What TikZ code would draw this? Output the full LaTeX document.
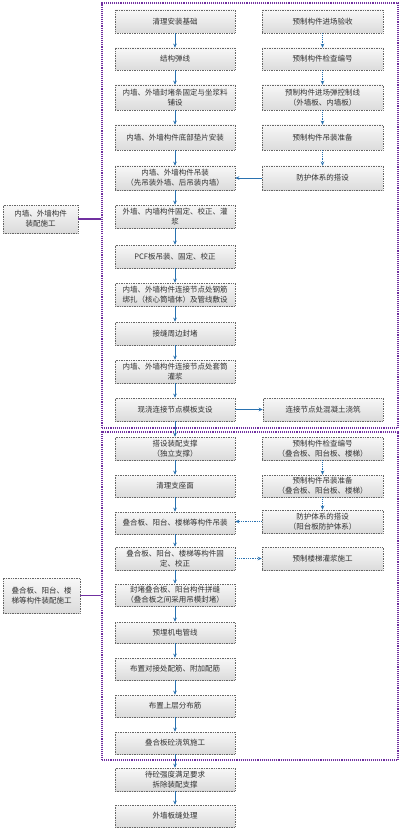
\documentclass[tikz,border=0pt]{standalone}
\usepackage{fontspec}
\setmainfont{Noto Sans CJK SC}
\usetikzlibrary{arrows.meta}
\definecolor{arr}{HTML}{2A72B0}
\definecolor{purp}{HTML}{7030A0}
\tikzset{
  box/.style={draw=black!60, densely dotted, line width=0.7pt, top color=black!3, bottom color=black!14,
    inner sep=1pt, align=center, font=\fontsize{7.5}{10}\selectfont, text=black!80},
  frame/.style={draw=purp, densely dotted, line width=1.1pt, inner sep=0pt},
  link/.style={draw=purp, line width=1.3pt},
  solidarr/.style={draw=arr, line width=0.8pt, -{Stealth[length=4pt,width=3.6pt]}},
  dotarr/.style={draw=arr, line width=0.8pt, densely dotted, -{Stealth[length=4pt,width=3.6pt]}}
}
\newcommand{\bx}[6]{% name, x1, y1, x2, y2, text
  \node[box, minimum width=#4pt-#2pt, minimum height=#5pt-#3pt] (#1) at ({(#2+#4)/2},{-(#3+#5)/2}) {#6};}
\begin{document}
\begin{tikzpicture}[x=1pt,y=1pt]
\useasboundingbox (0,0) rectangle (400,-829);
% frames
\node[frame, minimum width=296pt, minimum height=425pt] (F1) at (250,-215.5) {};
\node[frame, minimum width=296pt, minimum height=328pt] (F2) at (250,-596) {};
% top left column
\bx{L1}{115}{10}{235}{33}{清理安装基础}
\bx{L2}{115}{48}{235}{70}{结构弹线}
\bx{L3}{115}{85}{235}{110}{内墙、外墙封堵条固定与坐浆料\\铺设}
\bx{L4}{115}{125}{235}{150}{内墙、外墙构件底部垫片安装}
\bx{L5}{115}{166}{235}{190}{内墙、外墙构件吊装\\（先吊装外墙、后吊装内墙）}
\bx{L6}{115}{205}{235}{228}{外墙、内墙构件固定、校正、灌\\浆}
\bx{L7}{115}{245}{235}{268}{PCF板吊装、固定、校正}
\bx{L8}{115}{283}{235}{306}{内墙、外墙构件连接节点处钢筋\\绑扎（核心筒墙体）及管线敷设}
\bx{L9}{115}{322}{235}{345}{接缝周边封堵}
\bx{L10}{115}{360}{235}{383}{内墙、外墙构件连接节点处套筒\\灌浆}
\bx{L11}{115}{398}{235}{421}{现浇连接节点模板支设}
\bx{C1}{263}{398}{383}{421}{连接节点处混凝土浇筑}
% top right column
\bx{R1}{262}{10}{383}{33}{预制构件进场验收}
\bx{R2}{262}{48}{383}{70}{预制构件检查编号}
\bx{R3}{262}{85}{383}{110}{预制构件进场弹控制线\\（外墙板、内墙板）}
\bx{R4}{262}{125}{383}{150}{预制构件吊装准备}
\bx{R5}{262}{166}{383}{190}{防护体系的搭设}
% bottom left column
\bx{B1}{115}{437}{235}{460}{搭设装配支撑\\（独立支撑）}
\bx{B2}{115}{475}{235}{497}{清理支座面}
\bx{B3}{115}{512}{235}{534}{叠合板、阳台、楼梯等构件吊装}
\bx{B4}{115}{547}{235}{570}{叠合板、阳台、楼梯等构件固\\定、校正}
\bx{B5}{115}{584}{235}{606}{封堵叠合板、阳台构件拼缝\\（叠合板之间采用吊模封堵）}
\bx{B6}{115}{622}{235}{643}{预埋机电管线}
\bx{B7}{115}{658}{235}{680}{布置对接处配筋、附加配筋}
\bx{B8}{115}{695}{235}{717}{布置上层分布筋}
\bx{B9}{115}{732}{235}{754}{叠合板砼浇筑施工}
\bx{B10}{115}{768}{235}{791}{待砼强度满足要求\\拆除装配支撑}
\bx{B11}{115}{805}{235}{827}{外墙板缝处理}
% bottom right column
\bx{S1}{262}{437}{383}{460}{预制构件检查编号\\（叠合板、阳台板、楼梯）}
\bx{S2}{262}{475}{383}{497}{预制构件吊装准备\\（叠合板、阳台板、楼梯）}
\bx{S3}{262}{510}{383}{533}{防护体系的搭设\\（阳台板防护体系）}
\bx{S4}{262}{547}{383}{570}{预制楼梯灌浆施工}
% side labels
\bx{TL}{3}{205}{78}{233}{内墙、外墙构件\\装配施工}
\bx{BL}{3}{578}{80}{613}{叠合板、阳台、楼\\梯等构件装配施工}
\draw[link] (TL.east) -- (TL.east -| F1.west);
\draw[link] (BL.east) -- (BL.east -| F2.west);
% left column arrows
\foreach \a/\b in {L1/L2,L2/L3,L3/L4,L4/L5,L5/L6,L6/L7,L7/L8,L8/L9,L9/L10,L10/L11,L11/B1,
  B1/B2,B2/B3,B3/B4,B4/B5,B5/B6,B6/B7,B7/B8,B8/B9,B9/B10,B10/B11}
  \draw[solidarr] (\a.south) -- (\b.north);
% right column arrows
\foreach \a/\b in {R1/R2,R2/R3,R3/R4,R4/R5,S1/S2,S2/S3}
  \draw[dotarr] (\a.south) -- (\b.north);
% horizontal arrows
\draw[solidarr] (R5.west) -- (L5.east);
\draw[solidarr] (L11.east) -- (C1.west);
\draw[dotarr] (S3.west) -- (S3.west -| B3.east);
\draw[dotarr] (B4.east) -- (S4.west);
\end{tikzpicture}
\end{document}
